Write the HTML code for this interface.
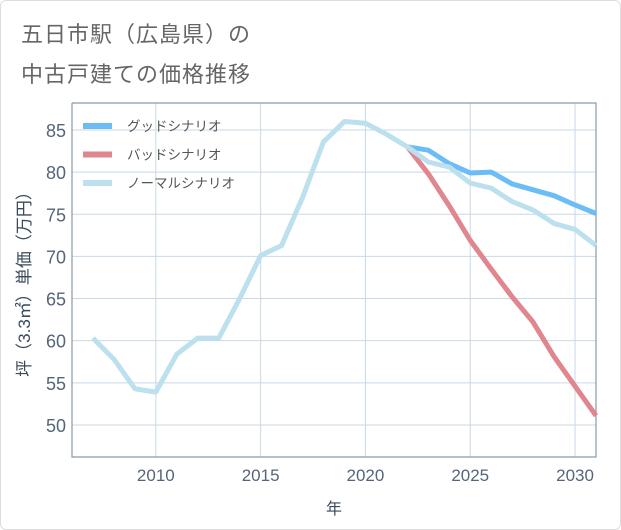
<!DOCTYPE html>
<html><head><meta charset="utf-8"><style>
body{margin:0;background:#fff;}
#wrap{position:relative;width:619px;height:528px;border:1px solid #ddd;border-radius:6px;overflow:hidden;background:#fff;font-family:"Liberation Sans","Noto Sans CJK JP",sans-serif;}
.title{position:absolute;left:20px;font-size:22px;color:#666;letter-spacing:1px;}
</style></head><body>
<div id="wrap">
<div class="title" style="top:16px">五日市駅（広島県）の</div>
<div class="title" style="top:56px">中古戸建ての価格推移</div>
<svg id="chart" width="621" height="530" style="position:absolute;left:-1px;top:-1px"></svg>
</div>
<script>
const years=[2007,2008,2009,2010,2011,2012,2013,2014,2015,2016,2017,2018,2019,2020,2021,2022,2023,2024,2025,2026,2027,2028,2029,2030,2031];
const normalVals=[60.3,57.8,54.3,53.9,58.4,60.3,60.3,65,70.1,71.3,77,83.6,86,85.8,84.5,83,81.2,80.6,78.7,78.1,76.5,75.5,73.9,73.2,71.3];
const goodYears=[2022,2023,2024,2025,2026,2027,2028,2029,2030,2031];
const goodVals=[83,82.6,81,79.9,80,78.6,77.9,77.2,76.1,75.1];
const badVals=[83,79.8,76,71.9,68.5,65.2,62.2,58.1,54.6,51.1];
const xTicks=[2010,2015,2020,2025,2030];
const yTicks=[50,55,60,65,70,75,80,85];
const NS="http://www.w3.org/2000/svg";
const svg=document.getElementById('chart');
const L=72,R=596,T=103,B=457,xMin=2006,xMax=2031,yMin=46.2,yMax=88.2;
const x=v=>L+(v-xMin)/(xMax-xMin)*(R-L);
const y=v=>B-(v-yMin)/(yMax-yMin)*(B-T);
function mk(t,a){const e=document.createElementNS(NS,t);for(const k in a)e.setAttribute(k,a[k]);svg.appendChild(e);return e;}
for(const t of yTicks){
 const g=mk('line',{x1:L,x2:R,y1:y(t),y2:y(t),stroke:'#c9d9e6','stroke-width':1});
 
 
 const l=mk('text',{x:L-6,y:y(t)+7,'text-anchor':'end','font-size':18,fill:'#55657a','font-family':'Liberation Sans,sans-serif'});l.textContent=t;
 
 
}
for(const t of xTicks){
 const g=mk('line',{x1:x(t),x2:x(t),y1:T,y2:B,stroke:'#c9d9e6','stroke-width':1});
 
 
 const l=mk('text',{x:x(t),y:B+24,'text-anchor':'middle','font-size':17,fill:'#55657a','font-family':'Liberation Sans,sans-serif'});l.textContent=t;
 
 
}
const ax=mk('path',{d:`M${L},${T}V${B}H${R}V${T}H${L}`,fill:'none',stroke:'#8a9aa8','stroke-width':1.2});


function line(xs,vs,c,name){
 const p=mk('polyline',{points:xs.map((v,i)=>x(v)+','+y(vs[i])).join(' '),fill:'none',stroke:c,'stroke-width':5,'stroke-linejoin':'round'});
 
 
}
line(goodYears,goodVals,'#6cbcf5','good-scenario-line');
line(goodYears,badVals,'#e0868e','bad-scenario-line');
line(years,normalVals,'#bde0ef','normal-scenario-line');
const leg=[['グッドシナリオ','#6cbcf5'],['バッドシナリオ','#e0868e'],['ノーマルシナリオ','#bde0ef']];
leg.forEach((d,i)=>{
 const yy=126+i*28.5;
 const s=mk('line',{x1:83,x2:112,y1:yy,y2:yy,stroke:d[1],'stroke-width':6});
 
 
 const t=mk('text',{x:127,y:yy+5,'font-size':13.5,fill:'#555','font-family':'Liberation Sans,Noto Sans CJK JP,sans-serif'});t.textContent=d[0];
 
 
});
const yt=mk('text',{transform:`translate(30,280) rotate(-90)`,'text-anchor':'middle','font-size':17,fill:'#3a4a5a','font-family':'Liberation Sans,Noto Sans CJK JP,sans-serif'});
yt.textContent='坪（3.3㎡）単価（万円）';


const xt=mk('text',{x:334,y:514,'text-anchor':'middle','font-size':16,fill:'#3a4a5a','font-family':'Liberation Sans,Noto Sans CJK JP,sans-serif'});
xt.textContent='年';


</script>
</body></html>
